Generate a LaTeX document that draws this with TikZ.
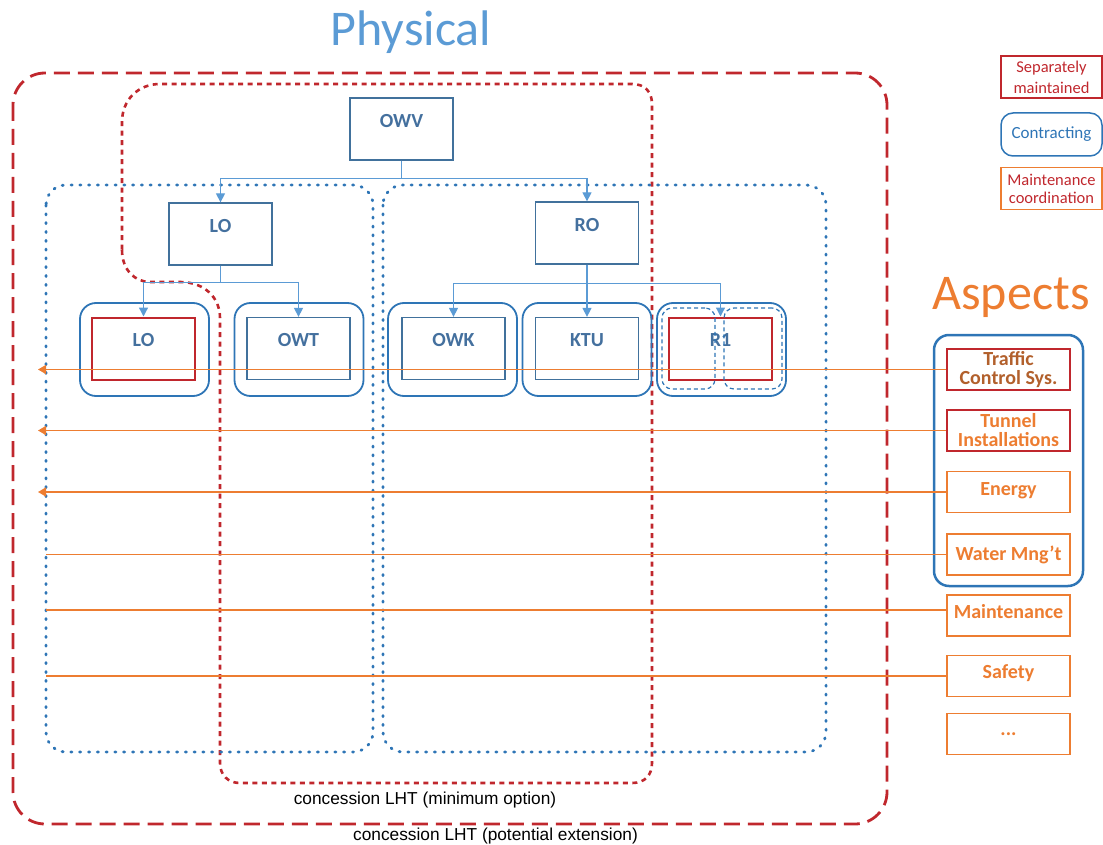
\documentclass[tikz,border=0pt]{standalone}
\usepackage{fontspec}
\setmainfont{Carlito}
\newfontfamily\captionfont{Liberation Sans}
\usetikzlibrary{arrows.meta}
\definecolor{dred}{RGB}{192,39,45}
\definecolor{orng}{RGB}{237,125,49}
\definecolor{lblue}{RGB}{91,155,213}
\definecolor{cblue}{RGB}{46,117,182}
\definecolor{bblue}{RGB}{65,113,156}
\definecolor{tblue}{RGB}{68,112,158}
\definecolor{tbrown}{RGB}{178,96,44}
\tikzset{
  unitbox/.style={draw=bblue, line width=1.3, minimum width=103, minimum height=62,
    inner sep=0, text height=12, text depth=15.4, text=tblue,
    font=\fontsize{20}{20}\selectfont\bfseries},
  sepbox/.style={unitbox, draw=dred, line width=2},
  contract/.style={draw=cblue, line width=1.8, rounded corners=16,
    minimum width=129, minimum height=93, inner sep=0},
  halfbox/.style={draw=cblue, line width=1.2, dash pattern=on 4pt off 3pt,
    rounded corners=10, minimum width=53, minimum height=81, inner sep=0},
  conn/.style={draw=lblue, line width=1.3, -{Triangle[width=9pt,length=9pt]}},
  aspect/.style={draw=orng, line width=1.5, fill=white, minimum width=123, minimum height=41,
    inner sep=0, align=center, text=orng, font=\fontsize{20}{19}\selectfont\bfseries},
  oneline/.style={text height=13, text depth=6.5},
  orline/.style={draw=orng, line width=1.6},
  orarrow/.style={orline, -{Triangle[width=9pt,length=8pt]}},
  legend/.style={line width=1.5, minimum width=101, minimum height=42, inner sep=0,
    align=center, font=\fontsize{16.5}{21}\selectfont},
  bigred/.style={draw=dred, line width=2.8, dash pattern=on 16pt off 8pt},
  dotred/.style={draw=dred, line width=2.6, dash pattern=on 5pt off 4.5pt},
  dotblue/.style={draw=cblue, line width=2.8, line cap=round, dash pattern=on 1.2pt off 7.6pt},
  caption/.style={font=\captionfont\fontsize{17.3}{19}\selectfont}
}
\begin{document}
\begin{tikzpicture}[x=1pt,y=-1pt]
\useasboundingbox (0,0) rectangle (1103,845);

% group outlines
\draw[bigred, rounded corners=32] (13,73) rectangle (887,824);
\draw[dotred] (122,250) .. controls (122,270) and (135,282) .. (150,282) -- (180,282)
  .. controls (205,282) and (220,298) .. (220,318) -- (220,763)
  .. controls (220,775) and (228,783) .. (240,783) -- (632,783)
  .. controls (645,783) and (652,775) .. (652,763) -- (652,104)
  .. controls (652,92) and (645,84) .. (632,84) -- (160,84)
  .. controls (138,84) and (122,100) .. (122,122) -- cycle;
\draw[dotblue, rounded corners=20] (46,185) rectangle (373,752);
\draw[dotblue, rounded corners=20] (383,185) rectangle (826,752);

% titles
\node[text=lblue, font=\fontsize{50}{50}\selectfont] (physical) at (411,32) {Physical};
\node[text=orng, font=\fontsize{50}{50}\selectfont] (aspects) at (1011,297) {Aspects};

% organisation tree
\node[unitbox] (owv) at (401.5,129) {OWV};
\node[unitbox] (lo) at (220.5,234) {LO};
\node[unitbox] (ro) at (587,233) {RO};

\node[contract] (clo) at (144.5,349.5) {};
\node[contract] (cowt) at (299,349.5) {};
\node[contract] (cowk) at (452.5,349.5) {};
\node[contract] (cktu) at (587,349.5) {};
\node[contract] (cr1) at (721.5,349.5) {};

\node[sepbox] (lol) at (143.5,348.5) {LO};
\node[unitbox] (owt) at (298.5,348.5) {OWT};
\node[unitbox] (owk) at (453.5,348.5) {OWK};
\node[unitbox] (ktu) at (587,348.5) {KTU};
\node[sepbox] (r1) at (720.5,348.5) {R1};
\node[halfbox] (r1a) at (688.5,348.5) {};
\node[halfbox, minimum width=58] (r1b) at (753,348.5) {};

\draw[conn] (owv.south) -- ++(0,18) -| (lo.north);
\draw[conn] (owv.south) -- ++(0,18) -| (ro.north);
\draw[conn] (lo.south) -- ++(0,17) -| (lol.north);
\draw[conn] (lo.south) -- ++(0,17) -| (owt.north);
\draw[conn] (ro.south) -- ++(0,19) -| (owk.north);
\draw[conn] (ro.south) -- (ktu.north);
\draw[conn] (ro.south) -- ++(0,19) -| (r1.north);

% aspects
\node[draw=cblue, line width=2.5, rounded corners=15, minimum width=149, minimum height=251,
  inner sep=0] (aspgroup) at (1008.5,460.5) {};
\node[aspect, draw=dred, text=tbrown] (traffic) at (1008.5,369.5) {Traffic\\Control Sys.};
\node[aspect, draw=dred] (tunnel) at (1008.5,430.5) {Tunnel\\Installations};
\node[aspect, oneline] (energy) at (1008.5,492) {Energy};
\node[aspect] (water) at (1008.5,554.5) {Water Mng’t};
\node[aspect, oneline] (maint) at (1008.5,615.5) {Maintenance};
\node[aspect, oneline, text depth=8] (safety) at (1008.5,676) {Safety};
\node[aspect, oneline, text depth=10] (more) at (1008.5,734) {...};

\coordinate (tipx) at (38,0);
\coordinate (endx) at (46,0);
\draw[orarrow] (traffic.west) -- (traffic.west -| tipx);
\draw[orarrow] (tunnel.west) -- (tunnel.west -| tipx);
\draw[orarrow] (energy.west) -- (energy.west -| tipx);
\draw[orline] (water.west) -- (water.west -| endx);
\draw[orline] ([yshift=5.5pt]maint.west) -- ([yshift=5.5pt]maint.west -| endx);
\draw[orline] (safety.west) -- (safety.west -| endx);

% legend
\node[legend, draw=dred, text=dred] (lgsep) at (1051.5,77) {Separately\\maintained};
\node[legend, draw=cblue, text=cblue, rounded corners=12, minimum height=43,
  font=\fontsize{17}{20}\selectfont] (lgcon) at (1051.5,134.5) {Contracting};
\node[legend, draw=orng, text=dred, font=\fontsize{16.5}{18}\selectfont] (lgcoord) at (1051.5,188.5) {Maintenance\\coordination};

% captions
\node[caption] (capmin) at (425,800) {concession LHT (minimum option)};
\node[caption] (capext) at (495.5,836) {concession LHT (potential extension)};
\end{tikzpicture}
\end{document}
